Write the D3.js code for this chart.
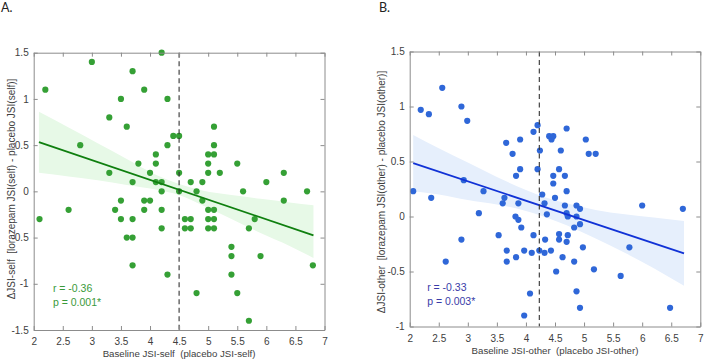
<!DOCTYPE html>
<html>
<head>
<meta charset="utf-8">
<script src="https://cdn.jsdelivr.net/npm/d3@7"></script>
<style>
  body { margin: 0; background: #fff; }
  svg { display: block; font-family: "Liberation Sans", Arial, sans-serif; }
</style>
</head>
<body>
<svg id="chart" width="704" height="359"></svg>
<script>
// ---- Panel A data: baseline JSI-self vs change ----
const selfX = [2.2,3.0,3.7,4.2,3.9,3.5,4.3,3.3,3.6,5.1,2.8,4.3,5.1,4.4,4.5,4.1,5.0,5.1,3.8,4.1,5.0,5.5,
  3.3,4.0,4.5,5.0,5.2,6.3,3.7,4.1,4.2,4.7,4.9,6.0,4.2,4.5,4.8,5.6,6.7,3.5,3.9,4.0,4.9,6.3,
  2.6,3.4,3.9,4.2,5.0,5.1,2.1,3.5,3.7,4.6,4.7,5.0,5.1,5.8,4.2,4.6,4.7,5.0,5.1,5.7,3.6,3.7,
  5.4,5.4,5.9,3.7,6.8,4.3,5.4,4.8,5.5,5.7];
const selfY = [1.1,1.4,1.3,1.5,1.1,1.0,1.0,0.8,0.7,0.7,0.5,0.5,0.5,0.6,0.6,0.4,0.4,0.4,0.3,0.3,0.3,0.3,
  0.2,0.2,0.2,0.2,0.2,0.2,0.1,0.1,0.1,0.1,0.1,0.1,0,0,0,0,0,-0.1,-0.1,-0.1,-0.1,-0.1,
  -0.2,-0.2,-0.2,-0.2,-0.2,-0.2,-0.3,-0.3,-0.3,-0.3,-0.3,-0.3,-0.3,-0.3,-0.4,-0.4,-0.4,-0.4,-0.4,-0.4,-0.5,-0.5,
  -0.6,-0.7,-0.7,-0.8,-0.8,-0.9,-0.9,-1.1,-1.1,-1.4];
const selfFitX = [2.09, 6.81];
const selfFitY = [0.533, -0.476];
const selfBandX = [2.09, 2.6, 3.1, 3.6, 4.1, 4.5, 4.9, 5.4, 5.9, 6.4, 6.81];
const selfBandUp = [0.86, 0.69, 0.52, 0.35, 0.18, 0.08, 0.01, -0.04, -0.08, -0.12, -0.15];
const selfBandLo = [0.20, 0.16, 0.12, 0.07, 0.02, -0.04, -0.15, -0.30, -0.45, -0.59, -0.72];
const selfCut = 4.5;

// ---- Panel B data: baseline JSI-other vs change ----
const otherX = [2.19,2.33,2.56,2.89,2.99,3.66,3.77,3.90,4.13,4.20,4.24,4.20,3.90,3.83,4.40,4.44,4.47,4.70,4.60,
  4.57,4.47,4.67,5.03,5.08,5.20,4.47,4.70,2.93,2.06,2.37,3.27,3.63,3.60,3.87,4.28,4.50,4.32,4.36,3.19,
  3.82,3.87,3.92,3.53,4.13,2.89,4.33,3.67,3.97,4.23,4.10,4.32,4.43,2.62,3.67,3.83,4.52,4.07,3.97,
  4.67,4.87,4.93,4.70,4.72,4.87,6.00,6.70,4.83,4.93,4.57,4.72,4.57,4.70,4.98,5.78,4.63,4.83,5.17,
  5.63,4.87,4.93,6.48];
const otherY = [0.97,0.93,1.17,1.00,0.87,0.67,0.57,0.70,0.77,0.83,0.60,0.43,0.43,0.37,0.73,0.70,0.73,0.80,0.60,
  0.43,0.37,0.37,0.70,0.57,0.57,0.30,0.23,0.33,0.23,0.17,0.23,0.17,0.12,0.12,0.20,0.17,0.12,0.02,0.03,
  0.00,-0.03,-0.10,-0.17,-0.17,-0.21,-0.21,-0.31,-0.31,-0.31,-0.33,-0.33,-0.31,-0.41,-0.41,-0.37,-0.50,-0.70,-0.90,
  0.10,0.10,0.07,0.03,0.00,0.00,0.10,0.07,-0.10,-0.07,-0.16,-0.17,-0.21,-0.23,-0.28,-0.28,-0.37,-0.41,-0.48,
  -0.54,-0.68,-0.83,-0.83];
const otherFitX = [2.06, 6.72];
const otherFitY = [0.485, -0.335];
const otherBandX = [2.06, 2.5, 3.0, 3.5, 4.0, 4.3, 4.7, 5.2, 5.7, 6.2, 6.72];
const otherBandUp = [0.74, 0.62, 0.49, 0.36, 0.24, 0.18, 0.12, 0.06, 0.02, -0.01, -0.04];
const otherBandLo = [0.23, 0.20, 0.15, 0.11, 0.05, 0.00, -0.08, -0.20, -0.33, -0.47, -0.63];
const otherCut = 4.23;

const xTicks = [2, 2.5, 3, 3.5, 4, 4.5, 5, 5.5, 6, 6.5, 7];
const selfYTicks = [-1.5, -1, -0.5, 0, 0.5, 1, 1.5];
const otherYTicks = [-1, -0.5, 0, 0.5, 1, 1.5];

const svg = d3.select('#chart');

function panel(o) {
  const g = svg.append('g');
  const x = d3.scaleLinear().domain([2, 7]).range([o.left, o.right]);
  const y = d3.scaleLinear().domain(o.yDomain).range([o.bottom, o.top]);

  // confidence band
  const band = d3.area().x(d => x(d[0])).y0(d => y(d[2])).y1(d => y(d[1])).curve(d3.curveMonotoneX);
  g.append('path').attr('d', band(o.bandX.map((v, i) => [v, o.bandUp[i], o.bandLo[i]])))
    .attr('fill', o.bandColor);

  // points
  g.selectAll('circle.pt').data(o.xs.map((v, i) => [v, o.ys[i]])).join('circle')
    .attr('class', 'pt')
    .attr('cx', d => x(d[0])).attr('cy', d => y(d[1])).attr('r', 3.1)
    .attr('fill', o.dotColor);

  // fit line
  g.append('line')
    .attr('x1', x(o.fitX[0])).attr('y1', y(o.fitY[0]))
    .attr('x2', x(o.fitX[1])).attr('y2', y(o.fitY[1]))
    .attr('stroke', o.lineColor).attr('stroke-width', 1.8);

  // dashed cut line
  g.append('line')
    .attr('x1', x(o.cut)).attr('x2', x(o.cut))
    .attr('y1', y(o.yDomain[1])).attr('y2', y(o.yDomain[0]))
    .attr('stroke', '#333').attr('stroke-width', 1.1).attr('stroke-dasharray', '5,3.5');

  // box axes, ticks inward
  const axCol = '#8c8c8c';
  const tl = 4;
  const addAxis = (axis, tx, ty, labels) => {
    const a = g.append('g').attr('transform', `translate(${tx},${ty})`).call(axis);
    a.select('.domain').attr('stroke', axCol);
    a.selectAll('.tick line').attr('stroke', axCol);
    a.selectAll('.tick text').attr('fill', '#404040').style('font-size', '10px')
      .style('font-family', '"Liberation Sans", Arial, sans-serif');
    if (!labels) a.selectAll('.tick text').remove();
    return a;
  };
  const fmt = d => String(d);
  addAxis(d3.axisBottom(x).tickValues(xTicks).tickFormat(fmt).tickSizeInner(-tl).tickSizeOuter(0).tickPadding(8), 0, o.bottom, true);
  addAxis(d3.axisTop(x).tickValues(xTicks).tickSizeInner(-tl).tickSizeOuter(0), 0, o.top, false);
  addAxis(d3.axisLeft(y).tickValues(o.yTicks).tickFormat(fmt).tickSizeInner(-tl).tickSizeOuter(0).tickPadding(5), o.left, 0, true);
  addAxis(d3.axisRight(y).tickValues(o.yTicks).tickSizeInner(-tl).tickSizeOuter(0), o.right, 0, false);

  // axis titles
  g.append('text').attr('x', (o.left + o.right) / 2).attr('y', o.bottom + 27)
    .attr('text-anchor', 'middle').attr('fill', '#404040').style('font-size', '9.7px')
    .style('white-space', 'pre').text(o.xTitle);
  g.append('text').attr('transform', `translate(${o.yTitleX},${o.yTitleY}) rotate(-90)`)
    .attr('text-anchor', 'middle').attr('fill', '#404040').style('font-size', '10px')
    .style('white-space', 'pre').text(o.yTitle);

  // stats
  o.stats.forEach((s, i) => {
    g.append('text').attr('x', x(o.statX)).attr('y', y(o.statY) + i * 14)
      .attr('fill', o.statColor).style('font-size', '10.5px').text(s);
  });

  // panel letter
  svg.append('text').attr('x', o.letterX).attr('y', 12).attr('fill', '#222')
    .style('font-family', 'Lato, "Open Sans", sans-serif').style('font-size', '12.5px').text(o.letter);
}

panel({
  left: 33.7, right: 324.5, top: 52.7, bottom: 330,
  yDomain: [-1.5, 1.5], yTicks: selfYTicks,
  xs: selfX, ys: selfY, fitX: selfFitX, fitY: selfFitY,
  bandX: selfBandX, bandUp: selfBandUp, bandLo: selfBandLo, cut: selfCut,
  dotColor: '#35a035', lineColor: '#0f7f0f', bandColor: '#e7f9e7', statColor: '#3a9a3a',
  xTitle: 'Baseline JSI-self  (placebo JSI-self)',
  yTitle: '\u0394JSI-self  [lorazepam JSI(self) - placebo JSI(self)]', yTitleX: 14.5, yTitleY: 189,
  stats: ['r = -0.36', 'p = 0.001*'], statX: 2.33, statY: -1.09,
  letter: 'A.', letterX: 1
});

panel({
  left: 409.7, right: 700.3, top: 51.5, bottom: 326.5,
  yDomain: [-1, 1.5], yTicks: otherYTicks,
  xs: otherX, ys: otherY, fitX: otherFitX, fitY: otherFitY,
  bandX: otherBandX, bandUp: otherBandUp, bandLo: otherBandLo, cut: otherCut,
  dotColor: '#2f67d8', lineColor: '#1132d6', bandColor: '#e6effc', statColor: '#3a3ca8',
  xTitle: 'Baseline JSI-other  (placebo JSI-other)',
  yTitle: '\u0394JSI-other  [lorazepam JSI(other) - placebo JSI(other)]', yTitleX: 384.5, yTitleY: 192,
  stats: ['r = -0.33', 'p = 0.003*'], statX: 2.3, statY: -0.68,
  letter: 'B.', letterX: 379
});
</script>
</body>
</html>
